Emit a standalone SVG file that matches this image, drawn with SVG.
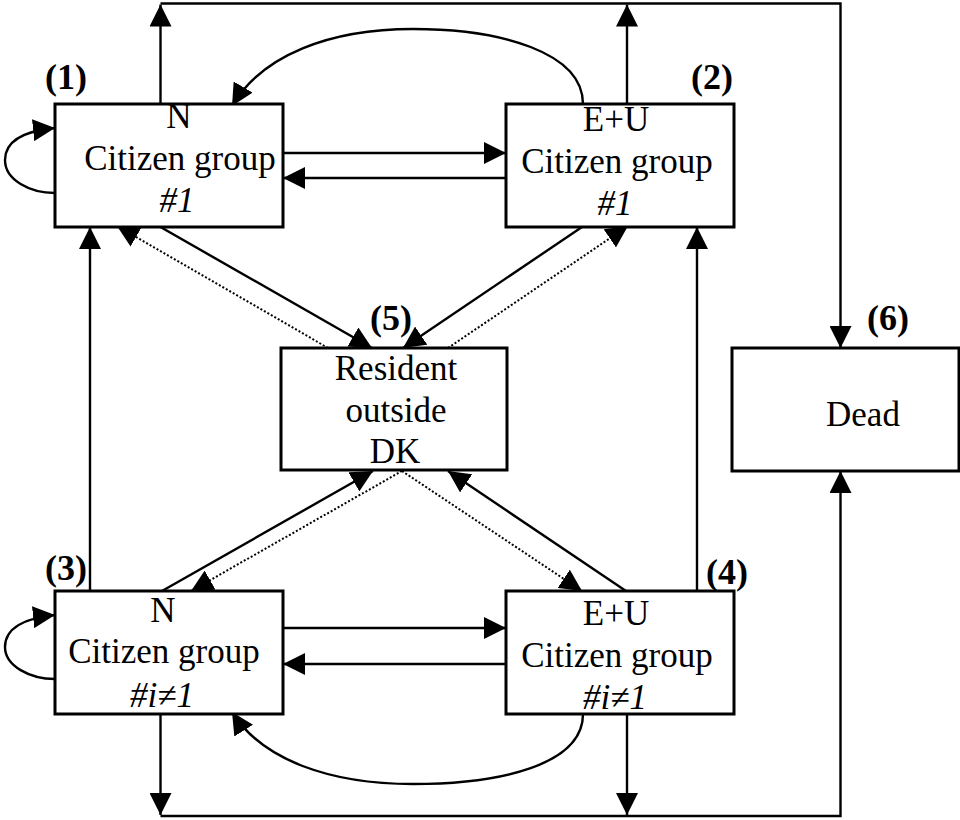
<svg xmlns="http://www.w3.org/2000/svg" width="960" height="820" viewBox="0 0 960 820">
<defs>
<marker id="ah" markerUnits="userSpaceOnUse" viewBox="0 0 22 22" markerWidth="22" markerHeight="22" refX="22" refY="11" orient="auto">
<path d="M0,0 L22,11 L0,22 z" fill="#000"/>
</marker>
</defs>
<style>
.box{fill:#fff;stroke:#000;stroke-width:3}
.ln{fill:none;stroke:#000;stroke-width:2.4}
.arr{marker-end:url(#ah)}
.dot{fill:none;stroke:#000;stroke-width:2;stroke-dasharray:2 2}
text{font-family:"Liberation Serif","Times New Roman",serif;font-size:35px;fill:#000;text-anchor:middle}
.num{font-weight:bold;font-size:36px}
.it{font-style:italic}
</style>
<rect width="960" height="820" fill="#fff"/>
<g id="connectors">
<path class="ln arr" d="M160.5,104 V4.5"/>
<path class="ln arr" d="M627,104 V4.5"/>
<path class="ln arr" d="M160.5,3.5 H840.5 V348"/>
<path class="ln arr" d="M160.5,714 V815"/>
<path class="ln arr" d="M627,714 V815"/>
<path class="ln arr" d="M160.5,816 H840.5 V471"/>
<path class="ln arr" d="M90,591 V227"/>
<path class="ln arr" d="M697,591 V227"/>
<path class="ln arr" d="M283,153 H506"/>
<path class="ln arr" d="M506,178 H283"/>
<path class="ln arr" d="M283,628 H506"/>
<path class="ln arr" d="M506,664 H283"/>
<path class="ln arr" d="M583,104 C583,52 500,29 413,29 C330,29 262,55 232,106"/>
<path class="ln arr" d="M583,714 C583,765 500,784 413,784 C330,784 262,760 232,712"/>
<path class="ln arr" d="M55,193 C30,193 5,180 5,160 C5,140 25,131 55,128"/>
<path class="ln arr" d="M55,679 C30,679 5,666 5,647 C5,628 25,618 55,615"/>
<path class="ln arr" d="M160.5,227 L372,348"/>
<path class="dot arr" d="M328,348 L117,226"/>
<path class="ln arr" d="M582,227 L403,348"/>
<path class="dot arr" d="M448,348 L628,226"/>
<path class="ln arr" d="M162,591 L373,471"/>
<path class="dot arr" d="M402,471 L191,591"/>
<path class="dot arr" d="M402,471 L582,591"/>
<path class="ln arr" d="M626,591 L448,471"/>
</g>
<g id="node1">
<rect class="box" x="55" y="104" width="228" height="123"/>
<text x="179" y="128">N</text>
<text x="180" y="170">Citizen group</text>
<text class="it" x="177" y="212">#1</text>
<text class="num" x="66" y="89">(1)</text>
</g>
<g id="node2">
<rect class="box" x="506" y="104" width="228" height="123"/>
<text x="616" y="131">E+U</text>
<text x="617" y="173">Citizen group</text>
<text class="it" x="615" y="215">#1</text>
<text class="num" x="712" y="89">(2)</text>
</g>
<g id="node3">
<rect class="box" x="55" y="591" width="228" height="123"/>
<text x="163" y="622">N</text>
<text x="164" y="663">Citizen group</text>
<text class="it" x="162" y="707">#i≠1</text>
<text class="num" x="66" y="580">(3)</text>
</g>
<g id="node4">
<rect class="box" x="506" y="591" width="228" height="123"/>
<text x="616" y="625">E+U</text>
<text x="617" y="667">Citizen group</text>
<text class="it" x="615" y="709">#i≠1</text>
<text class="num" x="727" y="584">(4)</text>
</g>
<g id="node5">
<rect class="box" x="281" y="348" width="226" height="122"/>
<text x="396" y="380">Resident</text>
<text x="396" y="422">outside</text>
<text x="395" y="463">DK</text>
<text class="num" x="391" y="330">(5)</text>
</g>
<g id="node6">
<rect class="box" x="732" y="348" width="227" height="123"/>
<text x="863" y="426">Dead</text>
<text class="num" x="888" y="330">(6)</text>
</g>
</svg>
